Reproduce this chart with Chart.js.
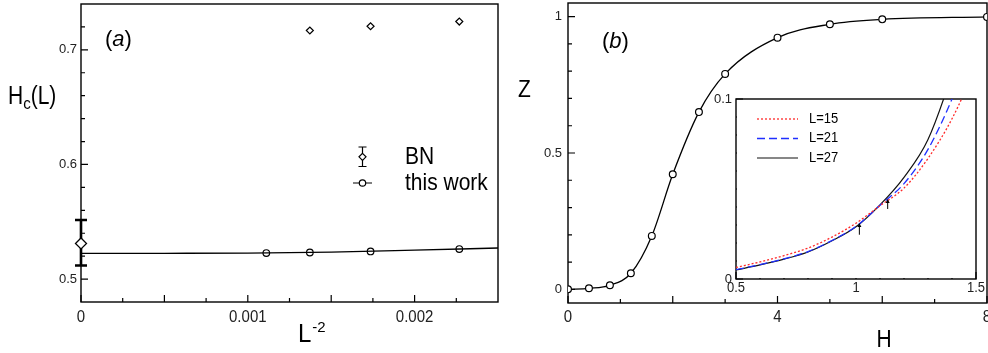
<!DOCTYPE html>
<html>
<head>
<meta charset="utf-8">
<script src="https://cdn.jsdelivr.net/npm/chart.js@4.4.0/dist/chart.umd.min.js"></script>
<style>
  body { margin: 0; background: #fff; width: 988px; height: 353px; overflow: hidden; position: relative; }
  canvas { position: absolute; }
  #chartA { left: 0; top: 0; }
  #chartB { left: 505px; top: 0; }
  #chartInset { left: 700px; top: 88px; }
</style>
</head>
<body>
<canvas id="chartA" width="505" height="353"></canvas>
<canvas id="chartB" width="483" height="353"></canvas>
<canvas id="chartInset" width="288" height="212"></canvas>
<script>
// ---- panel (a): Hc(L) against L^-2
const bnL2 = [0.001372, 0.001736, 0.002268];
const bnHc = [0.7169, 0.7206, 0.7247];
const bnInfL2 = [0];
const bnInfHc = [0.5311];
const bnInfLo = [0.5119];
const bnInfHi = [0.5515];
const workL2 = [0.001111, 0.001372, 0.001736, 0.002268];
const workHc = [0.5227, 0.5232, 0.5241, 0.5262];
const fitL2 = [0, 0.0005, 0.001, 0.0015, 0.002, 0.0025];
const fitHc = [0.5224, 0.5225, 0.5227, 0.5235, 0.5252, 0.5271];
const aXMajor = [0, 0.0005, 0.001, 0.0015, 0.002];
const aXMinor = [0.00025, 0.00075, 0.00125, 0.00175, 0.00225];
const aXLabelAt = [0, 0.001, 0.002];
const aXLabels = ['0', '0.001', '0.002'];
const aYMajor = [0.5, 0.6, 0.7];
const aYMinor = [0.52, 0.54, 0.56, 0.58, 0.62, 0.64, 0.66, 0.68, 0.72];
const aYLabels = ['0.5', '0.6', '0.7'];

// ---- panel (b): Z against H
const hVals = [0, 0.4, 0.8, 1.2, 1.6, 2.0, 2.5, 3.0, 4, 5, 6, 8];
const zVals = [0, 0.004, 0.015, 0.059, 0.196, 0.422, 0.650, 0.790, 0.923, 0.972, 0.990, 0.999];
const bXMajor = [0, 2, 4, 6, 8];
const bXMinor = [1, 3, 5, 7];
const bXLabelAt = [0, 4, 8];
const bXLabels = ['0', '4', '8'];
const bYMajor = [0, 0.5, 1];
const bYMinor = [0.1, 0.2, 0.3, 0.4, 0.6, 0.7, 0.8, 0.9];
const bYLabels = ['0', '0.5', '1'];

// ---- inset
const insetH = [0.5, 0.6, 0.7, 0.8, 0.9, 1.0, 1.1, 1.2, 1.3, 1.4, 1.5];
const zL15 = [0.0064, 0.0095, 0.013, 0.0172, 0.0233, 0.031, 0.0407, 0.0505, 0.067, 0.089, 0.118];
const zL21 = [0.0052, 0.008, 0.0112, 0.0152, 0.0214, 0.0292, 0.041, 0.053, 0.072, 0.1, 0.135];
const zL27 = [0.005, 0.0078, 0.011, 0.015, 0.0212, 0.029, 0.0412, 0.0565, 0.0775, 0.114, 0.16];
const insetNames = ['L=15', 'L=21', 'L=27'];
const arrowH = [1.014, 1.132];
const arrowFrom = [0.0246, 0.0389];
const arrowTo = [0.0311, 0.0444];
const iXMajor = [0.5, 1, 1.5];
const iXMinor = [0.6, 0.7, 0.8, 0.9, 1.1, 1.2, 1.3, 1.4];
const iXLabels = ['0.5', '1', '1.5'];
const iYMajor = [0, 0.1];
const iYMinor = [0.01, 0.02, 0.03, 0.04, 0.05, 0.06, 0.07, 0.08, 0.09];
const iYLabels = ['0', '0.1'];

const FONT = '"Liberation Sans", Arial, Helvetica, sans-serif';
const pts = (xs, ys) => xs.map((x, i) => ({ x, y: ys[i] }));

function drawText(ctx, s, x, y, size, opt = {}) {
    ctx.save();
    ctx.font = (opt.italic ? 'italic ' : '') + size + 'px ' + FONT;
    ctx.textAlign = opt.align || 'left';
    ctx.textBaseline = 'middle';
    ctx.fillStyle = opt.color || '#000';
    const w = ctx.measureText(s).width;
    ctx.translate(x, y);
    ctx.scale(1, opt.sy || 1);
    ctx.fillText(s, 0, 0);
    ctx.restore();
    return x + w;
}

// box frame with inward ticks and tick labels
const frameTicks = {
    id: 'frameTicks',
    beforeDatasetsDraw(chart, args, o) {
        const { ctx, chartArea: a } = chart;
        const xs = chart.scales.x, ys = chart.scales.y;
        ctx.save();
        ctx.strokeStyle = '#000';
        ctx.lineWidth = 1.4;
        ctx.strokeRect(a.left, a.top, a.right - a.left, a.bottom - a.top);
        ctx.lineWidth = 1.2;
        ctx.beginPath();
        const xt = (vals, len) => vals.forEach(v => {
            const p = xs.getPixelForValue(v);
            ctx.moveTo(p, a.bottom); ctx.lineTo(p, a.bottom - len);
        });
        const yt = (vals, len) => vals.forEach(v => {
            const p = ys.getPixelForValue(v);
            ctx.moveTo(a.left, p); ctx.lineTo(a.left + len, p);
        });
        xt(o.xMajor, 7); xt(o.xMinor, 4);
        yt(o.yMajor, 7); yt(o.yMinor, 4);
        ctx.stroke();
        ctx.restore();
        o.xLabelAt.forEach((v, i) => drawText(ctx, o.xLabels[i], xs.getPixelForValue(v), a.bottom + o.xGap, o.xSize, { align: 'center', color: '#222', sy: 1.1 }));
        o.yLabelAt.forEach((v, i) => drawText(ctx, o.yLabels[i], a.left - o.yGap, ys.getPixelForValue(v), o.ySize, { align: 'right', color: '#222' }));
    }
};

function baseOptions(pad, xr, yr, ticks) {
    return {
        responsive: false,
        animation: false,
        events: [],
        layout: { padding: pad, autoPadding: false },
        plugins: { legend: { display: false }, tooltip: { enabled: false }, frameTicks: ticks },
        scales: {
            x: { type: 'linear', display: false, min: xr[0], max: xr[1] },
            y: { type: 'linear', display: false, min: yr[0], max: yr[1] }
        }
    };
}

// ---------- panel (a)
const extrasA = {
    id: 'extrasA',
    beforeDatasetsDraw(chart) {
        const { ctx } = chart;
        const xs = chart.scales.x, ys = chart.scales.y;
        ctx.save();
        ctx.strokeStyle = '#000';
        ctx.lineWidth = 2.6;
        ctx.beginPath();
        bnInfL2.forEach((v, i) => {
            const px = xs.getPixelForValue(v);
            const lo = ys.getPixelForValue(bnInfLo[i]), hi = ys.getPixelForValue(bnInfHi[i]);
            ctx.moveTo(px, lo); ctx.lineTo(px, hi);
            ctx.moveTo(px - 6, lo); ctx.lineTo(px + 6, lo);
            ctx.moveTo(px - 6, hi); ctx.lineTo(px + 6, hi);
        });
        ctx.stroke();
        ctx.restore();
    },
    afterDatasetsDraw(chart) {
        const { ctx } = chart;
        // panel letter
        let x = drawText(ctx, '(', 105, 40, 22);
        x = drawText(ctx, 'a', x, 40, 22, { italic: true });
        drawText(ctx, ')', x, 40, 22);
        // axis titles
        x = drawText(ctx, 'H', 8, 97, 21, { sy: 1.2 });
        x = drawText(ctx, 'c', x, 104, 15, { sy: 1.1 });
        drawText(ctx, '(L)', x, 97, 21, { sy: 1.2 });
        x = drawText(ctx, 'L', 298, 335, 24, { sy: 1.1 });
        drawText(ctx, '-2', x + 1, 328, 15);
        // legend
        ctx.save();
        ctx.strokeStyle = '#000';
        ctx.lineWidth = 1.2;
        ctx.beginPath();
        ctx.moveTo(362.5, 147); ctx.lineTo(362.5, 166.5);
        ctx.moveTo(358.5, 147); ctx.lineTo(366.5, 147);
        ctx.moveTo(358.5, 166.5); ctx.lineTo(366.5, 166.5);
        ctx.moveTo(353, 183); ctx.lineTo(372, 183);
        ctx.stroke();
        ctx.fillStyle = '#fff';
        ctx.beginPath();
        ctx.moveTo(362.5, 153.3); ctx.lineTo(366, 156.8); ctx.lineTo(362.5, 160.3); ctx.lineTo(359, 156.8); ctx.closePath();
        ctx.fill(); ctx.stroke();
        ctx.beginPath();
        ctx.arc(362.5, 183, 3.2, 0, Math.PI * 2);
        ctx.fill(); ctx.stroke();
        ctx.restore();
        drawText(ctx, 'BN', 405, 157, 21, { sy: 1.15 });
        drawText(ctx, 'this work', 405, 183, 21, { sy: 1.15 });
    }
};

new Chart(document.getElementById('chartA'), {
    type: 'scatter',
    data: {
        datasets: [
            { data: pts(fitL2, fitHc), showLine: true, borderColor: '#000', borderWidth: 1.3, pointRadius: 0, cubicInterpolationMode: 'monotone' },
            { data: pts(workL2, workHc), borderColor: '#000', backgroundColor: '#fff', borderWidth: 1.2, pointRadius: 3.3 },
            { data: pts(bnL2, bnHc), pointStyle: 'rectRot', borderColor: '#000', backgroundColor: '#fff', borderWidth: 1.2, pointRadius: 3.5 },
            { data: pts(bnInfL2, bnInfHc), pointStyle: 'rectRot', borderColor: '#000', backgroundColor: '#fff', borderWidth: 1.3, pointRadius: 5.5, clip: false }
        ]
    },
    options: baseOptions({ left: 81, top: 4, right: 7, bottom: 51 }, [0, 0.0025], [0.48, 0.74], {
        xMajor: aXMajor, xMinor: aXMinor, xLabelAt: aXLabelAt, xLabels: aXLabels, xGap: 15, xSize: 15,
        yMajor: aYMajor, yMinor: aYMinor, yLabelAt: aYMajor, yLabels: aYLabels, yGap: 4, ySize: 13
    }),
    plugins: [frameTicks, extrasA]
});

// ---------- panel (b)
const extrasB = {
    id: 'extrasB',
    afterDatasetsDraw(chart) {
        const { ctx } = chart;
        let x = drawText(ctx, '(', 97, 42, 22);
        x = drawText(ctx, 'b', x, 42, 22, { italic: true });
        drawText(ctx, ')', x, 42, 22);
        drawText(ctx, 'Z', 13, 91, 21, { sy: 1.1 });
        drawText(ctx, 'H', 379, 341, 21, { align: 'center', sy: 1.1 });
    }
};

new Chart(document.getElementById('chartB'), {
    type: 'scatter',
    data: {
        datasets: [
            { data: pts(hVals, zVals), showLine: true, borderColor: '#000', borderWidth: 1.3, cubicInterpolationMode: 'monotone',
              backgroundColor: '#fff', pointBorderWidth: 1.2, pointRadius: 3.4 }
        ]
    },
    options: baseOptions({ left: 63, top: 3, right: 1, bottom: 50 }, [0, 8], [-0.05, 1.05], {
        xMajor: bXMajor, xMinor: bXMinor, xLabelAt: bXLabelAt, xLabels: bXLabels, xGap: 14, xSize: 15,
        yMajor: bYMajor, yMinor: bYMinor, yLabelAt: bYMajor, yLabels: bYLabels, yGap: 6, ySize: 13
    }),
    plugins: [frameTicks, extrasB]
});

// ---------- inset
const extrasInset = {
    id: 'extrasInset',
    beforeDatasetsDraw(chart) {
        const { ctx, chartArea: a } = chart;
        ctx.save();
        ctx.fillStyle = '#fff';
        ctx.fillRect(a.left + 1, a.top + 1, a.right - a.left - 2, a.bottom - a.top - 2);
        ctx.restore();
    },
    afterDatasetsDraw(chart) {
        const { ctx } = chart;
        const xs = chart.scales.x, ys = chart.scales.y;
        ctx.save();
        chart.data.datasets.forEach((ds, i) => {
            const y = 31 + i * 19.5;
            ctx.strokeStyle = ds.borderColor;
            ctx.lineWidth = ds.borderWidth;
            ctx.setLineDash(ds.borderDash || []);
            ctx.beginPath();
            ctx.moveTo(57, y); ctx.lineTo(98, y);
            ctx.stroke();
            drawText(ctx, insetNames[i], 109, y, 13, { sy: 1.1 });
        });
        ctx.setLineDash([]);
        ctx.strokeStyle = '#000';
        ctx.fillStyle = '#000';
        ctx.lineWidth = 1;
        arrowH.forEach((h, i) => {
            const px = xs.getPixelForValue(h);
            const y0 = ys.getPixelForValue(arrowFrom[i]), y1 = ys.getPixelForValue(arrowTo[i]);
            ctx.beginPath();
            ctx.moveTo(px, y0); ctx.lineTo(px, y1 + 3);
            ctx.stroke();
            ctx.beginPath();
            ctx.moveTo(px, y1); ctx.lineTo(px - 2, y1 + 4); ctx.lineTo(px + 2, y1 + 4); ctx.closePath();
            ctx.fill();
        });
        ctx.restore();
    }
};

new Chart(document.getElementById('chartInset'), {
    type: 'scatter',
    data: {
        datasets: [
            { data: pts(insetH, zL15), showLine: true, borderColor: '#ff2a2a', borderWidth: 1.3, borderDash: [2, 2], pointRadius: 0, cubicInterpolationMode: 'monotone' },
            { data: pts(insetH, zL21), showLine: true, borderColor: '#1f2fff', borderWidth: 1.3, borderDash: [8, 4], pointRadius: 0, cubicInterpolationMode: 'monotone' },
            { data: pts(insetH, zL27), showLine: true, borderColor: '#111', borderWidth: 1.2, pointRadius: 0, cubicInterpolationMode: 'monotone' }
        ]
    },
    options: baseOptions({ left: 36, top: 11, right: 12, bottom: 21 }, [0.5, 1.5], [0, 0.1], {
        xMajor: iXMajor, xMinor: iXMinor, xLabelAt: iXMajor, xLabels: iXLabels, xGap: 9, xSize: 13,
        yMajor: iYMajor, yMinor: iYMinor, yLabelAt: iYMajor, yLabels: iYLabels, yGap: 4, ySize: 13
    }),
    plugins: [frameTicks, extrasInset]
});
</script>
</body>
</html>
